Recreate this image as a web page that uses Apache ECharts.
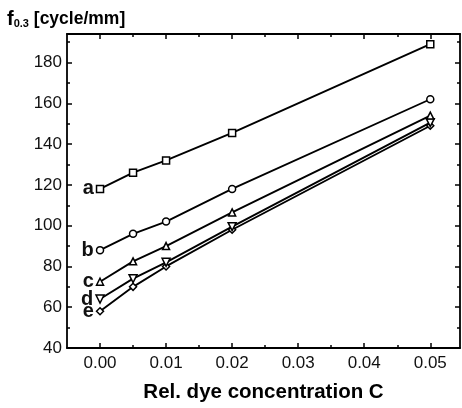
<!DOCTYPE html>
<html><head><meta charset="utf-8">
<script src="https://cdn.jsdelivr.net/npm/echarts@6/dist/echarts.min.js"></script>
<style>html,body{margin:0;padding:0;background:#fff}#c{width:462px;height:408px}</style>
</head><body><div id="c"></div>
<script>
const xValues = [0.00, 0.005, 0.01, 0.02, 0.05];
const seriesA = [118, 126, 132, 145.5, 189];
const seriesB = [88, 96, 102, 118, 162];
const seriesC = [72.5, 82.5, 90, 106.5, 154];
const seriesD = [64, 74, 82, 99.5, 150.5];
const seriesE = [58, 70, 80, 98, 149];
const seriesNames = ['a', 'b', 'c', 'd', 'e'];
const seriesSymbols = ['rect', 'circle', 'triangle', 'path://M0,0 L10,0 L5,9 Z', 'diamond'];
const xMajorTicks = [0.00, 0.01, 0.02, 0.03, 0.04, 0.05];
const xMinorTicks = [0.005, 0.015, 0.025, 0.035, 0.045];
const yMajorTicks = [40, 60, 80, 100, 120, 140, 160, 180];
const yMinorTicks = [50, 70, 90, 110, 130, 150, 170, 190];

const allSeries = [seriesA, seriesB, seriesC, seriesD, seriesE];
const X_MIN = -0.005, X_MAX = 0.0545, Y_MIN = 40, Y_MAX = 194;
const black = '#000';
const font = 'Liberation Sans, Arial, sans-serif';

function xAx(pos, vals, len, showLine, showLabel) {
  return {
    type: 'value', position: pos, min: X_MIN, max: X_MAX,
    splitLine: { show: false },
    axisLine: { show: showLine, onZero: false, lineStyle: { color: black, width: 1.8 } },
    axisTick: { show: true, inside: true, length: len, customValues: vals, lineStyle: { color: black, width: 1.5 } },
    axisLabel: { show: showLabel, customValues: vals, formatter: v => v.toFixed(2), color: '#111', fontSize: 17, fontFamily: font, margin: 7 }
  };
}
function yAx(pos, vals, len, showLine, showLabel) {
  return {
    type: 'value', position: pos, min: Y_MIN, max: Y_MAX,
    splitLine: { show: false },
    axisLine: { show: showLine, onZero: false, lineStyle: { color: black, width: 1.8 } },
    axisTick: { show: true, inside: true, length: len, customValues: vals, lineStyle: { color: black, width: 1.5 } },
    axisLabel: { show: showLabel, customValues: vals, color: '#111', fontSize: 17, fontFamily: font, margin: 5 }
  };
}

const xAxes = [
  xAx('bottom', xMajorTicks, 5, true, true),
  xAx('bottom', xMinorTicks, 3, false, false),
  xAx('top', xMajorTicks, 5, true, false),
  xAx('top', xMinorTicks, 3, false, false)
];
xAxes[0].name = 'Rel. dye concentration C';
xAxes[0].nameLocation = 'middle';
xAxes[0].nameGap = 34;
xAxes[0].nameTextStyle = { color: black, fontSize: 20.5, fontWeight: 'bold', fontFamily: font };

const yAxes = [
  yAx('left', yMajorTicks, 5, true, true),
  yAx('left', yMinorTicks, 3, false, false),
  yAx('right', yMajorTicks, 5, true, false),
  yAx('right', yMinorTicks, 3, false, false)
];

const series = allSeries.map((vals, i) => ({
  type: 'line',
  xAxisIndex: 0, yAxisIndex: 0,
  data: vals.map((v, j) => {
    const item = { value: [xValues[j], v] };
    if (j === 0) item.label = { show: true, position: 'left', distance: 2, formatter: seriesNames[i], color: '#111', fontSize: 20, fontWeight: 'bold', fontFamily: font };
    return item;
  }),
  symbol: seriesSymbols[i],
  symbolSize: i === 3 ? 8 : 7,
  showAllSymbol: true,
  lineStyle: { color: black, width: 1.9 },
  itemStyle: { color: '#fff', borderColor: black, borderWidth: 1.5 },
  label: { show: false },
  z: 5 - i,
  animation: false
}));

const chart = echarts.init(document.getElementById('c'), null, { renderer: 'canvas' });
chart.setOption({
  backgroundColor: '#fff',
  animation: false,
  title: {
    left: 2, top: 4,
    text: '{f|f}{s|0.3}{t| [cycle/mm]}',
    textStyle: {
      rich: {
        f: { fontSize: 20, fontWeight: 'bold', color: black, fontFamily: font },
        s: { fontSize: 11, fontWeight: 'bold', color: black, fontFamily: font, verticalAlign: 'bottom', padding: [7, 0, 0, 0] },
        t: { fontSize: 17.5, fontWeight: 'bold', color: black, fontFamily: font }
      }
    }
  },
  grid: { left: 67, right: 2, top: 34, bottom: 58, containLabel: false },
  xAxis: xAxes,
  yAxis: yAxes,
  series: series
});
</script></body></html>
